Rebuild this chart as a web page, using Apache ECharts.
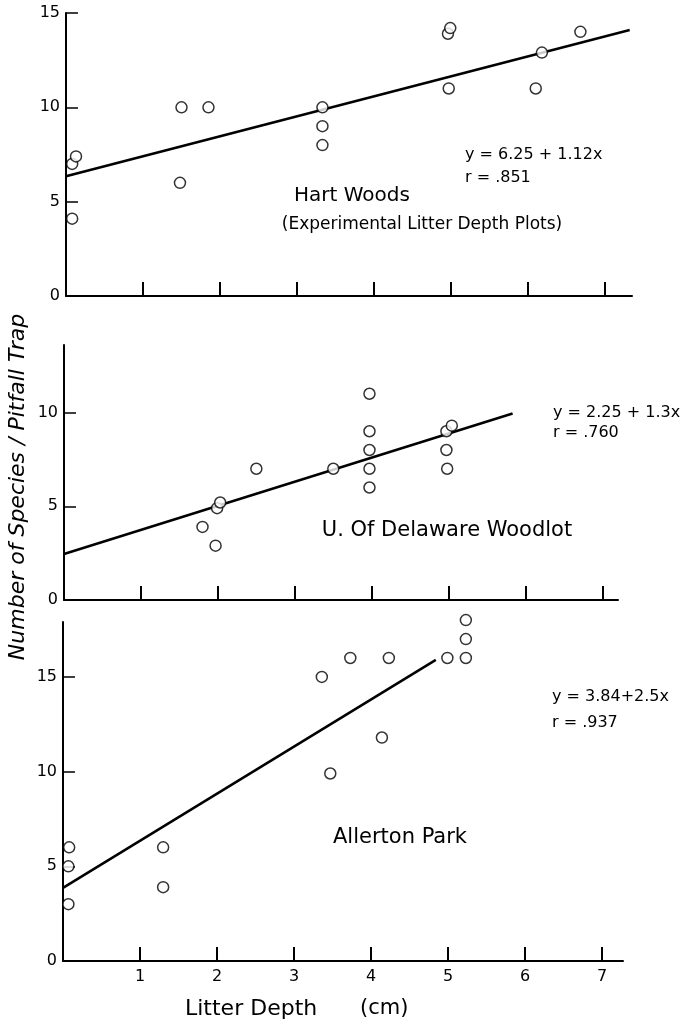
<!DOCTYPE html>
<html>
<head>
<meta charset="utf-8">
<script src="https://cdn.jsdelivr.net/npm/echarts@6/dist/echarts.min.js"></script>
<style>
  html, body { margin: 0; padding: 0; background: #fff; }
  #chart { width: 680px; height: 1022px; }
</style>
</head>
<body>
<div id="chart"></div>
<script>
// 数据部分
var xTicks = [1, 2, 3, 4, 5, 6, 7];
var yTicksHart = [0, 5, 10, 15];
var yTicksDel = [0, 5, 10];
var yTicksAll = [0, 5, 10, 15];

// Hart Woods
var hartX = [0.08, 0.08, 0.13, 1.48, 1.5, 1.85, 3.33, 3.33, 3.33, 4.96, 4.99, 4.97, 6.1, 6.18, 6.68];
var hartY = [4.1, 7.0, 7.4, 6.0, 10.0, 10.0, 10.0, 9.0, 8.0, 13.9, 14.2, 11.0, 11.0, 12.9, 14.0];
var hartLineX = [0, 7.32];
var hartLineY = [6.35, 14.1];

// U. Of Delaware Woodlot
var delX = [1.8, 1.97, 1.99, 2.03, 2.5, 3.5, 3.97, 3.97, 3.97, 3.97, 3.97, 4.97, 5.04, 4.97, 4.98];
var delY = [3.9, 2.9, 4.9, 5.2, 7.0, 7.0, 11.0, 9.0, 8.0, 7.0, 6.0, 9.0, 9.3, 8.0, 7.0];
var delLineX = [0, 5.83];
var delLineY = [2.45, 9.95];

// Allerton Park
var allX = [0.08, 0.07, 0.07, 1.3, 1.3, 3.36, 3.47, 3.73, 4.14, 4.23, 4.99, 5.23, 5.23, 5.23];
var allY = [6.0, 5.0, 3.0, 6.0, 3.9, 15.0, 9.9, 16.0, 11.8, 16.0, 16.0, 16.0, 17.0, 18.0];
var allLineX = [0, 4.84];
var allLineY = [3.86, 15.9];

function pairs(xs, ys) {
  return xs.map(function (x, i) { return [x, ys[i]]; });
}

var font = 'DejaVu Sans';

function makeX(idx, max, showLabel) {
  return {
    type: 'value', gridIndex: idx, min: 0, max: max,
    axisLine: { show: true, onZero: false, lineStyle: { color: '#000', width: 2 } },
    axisTick: { show: true, inside: true, length: 14, customValues: xTicks, lineStyle: { color: '#000', width: 2 } },
    axisLabel: { show: showLabel, customValues: xTicks, color: '#000', fontSize: 16, fontFamily: font, margin: 8 },
    splitLine: { show: false }
  };
}

function makeY(idx, max, ticks) {
  return {
    type: 'value', gridIndex: idx, min: 0, max: max,
    axisLine: { show: true, onZero: false, lineStyle: { color: '#000', width: 2 } },
    axisTick: { show: true, inside: true, length: 12, customValues: ticks, lineStyle: { color: '#000', width: 1.5 } },
    axisLabel: { show: true, customValues: ticks, color: '#000', fontSize: 16, fontFamily: font, margin: 6 },
    splitLine: { show: false }
  };
}

function lineSeries(idx, xs, ys) {
  return {
    type: 'line', xAxisIndex: idx, yAxisIndex: idx,
    data: pairs(xs, ys), symbol: 'none', silent: true, z: 2,
    lineStyle: { color: '#000', width: 2.5 }
  };
}

function dotSeries(idx, xs, ys) {
  return {
    type: 'scatter', xAxisIndex: idx, yAxisIndex: idx, clip: false,
    data: pairs(xs, ys), symbol: 'circle', symbolSize: 11, z: 3,
    itemStyle: { color: '#fff', borderColor: '#000', borderWidth: 1.5 }
  };
}

function txt(left, top, text, size, align) {
  return {
    type: 'text', x: left, y: top,
    style: { text: text, fill: '#000', font: size + 'px "' + font + '"', textAlign: align || 'left', textVerticalAlign: 'middle' }
  };
}

var chart = echarts.init(document.getElementById('chart'));
var option = {
  backgroundColor: '#fff',
  animation: false,
  grid: [
    { left: 66, top: 13, width: 566, height: 283 },
    { left: 64, top: 345, width: 554, height: 255 },
    { left: 63, top: 622, width: 560, height: 339 }
  ],
  xAxis: [makeX(0, 7.35, false), makeX(1, 7.2, false), makeX(2, 7.27, true)],
  yAxis: [makeY(0, 15, yTicksHart), makeY(1, 13.6, yTicksDel), makeY(2, 17.9, yTicksAll)],
  series: [
    lineSeries(0, hartLineX, hartLineY),
    dotSeries(0, hartX, hartY),
    lineSeries(1, delLineX, delLineY),
    dotSeries(1, delX, delY),
    lineSeries(2, allLineX, allLineY),
    dotSeries(2, allX, allY)
  ],
  graphic: [
    txt(465, 155, 'y = 6.25 + 1.12x', 16),
    txt(465, 178, 'r = .851', 16),
    txt(352, 196, 'Hart Woods', 20, 'center'),
    txt(422, 225, '(Experimental Litter Depth Plots)', 17, 'center'),
    txt(447, 531, 'U. Of Delaware Woodlot', 21, 'center'),
    txt(553, 413, 'y = 2.25 + 1.3x', 16),
    txt(553, 433, 'r = .760', 16),
    txt(552, 697, 'y = 3.84+2.5x', 16),
    txt(552, 723, 'r = .937', 16),
    txt(400, 838, 'Allerton Park', 21, 'center'),
    txt(185, 1009, 'Litter Depth', 22),
    txt(360, 1009, '(cm)', 21),
    {
      type: 'text', x: 18, y: 487, rotation: Math.PI / 2,
      style: { text: 'Number of Species / Pitfall Trap', fill: '#000', font: 'italic 22px "' + font + '"', textAlign: 'center', textVerticalAlign: 'middle' }
    }
  ]
};
chart.setOption(option);
</script>
</body>
</html>
